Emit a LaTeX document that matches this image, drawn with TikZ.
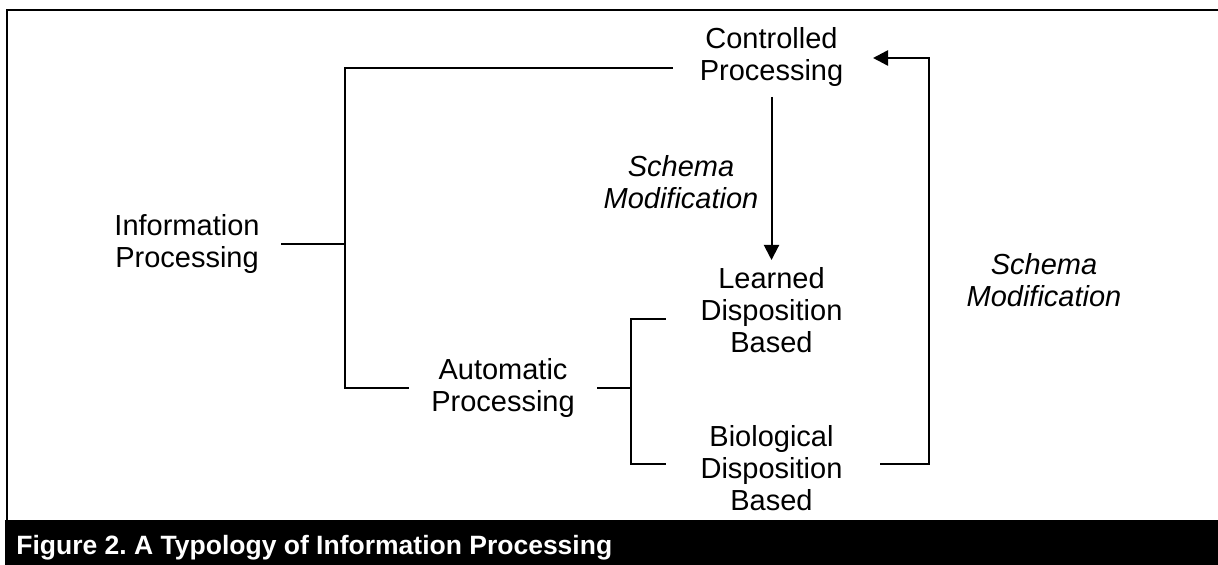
\documentclass[tikz,border=0pt]{standalone}
\usepackage{fontspec}
\setmainfont{Liberation Sans}
\usetikzlibrary{arrows.meta}
\frenchspacing

\begin{document}
\begin{tikzpicture}[x=0.5pt,y=-0.5pt,
  label/.style={align=center, inner sep=0pt, font=\fontsize{14.5}{16}\selectfont},
  italiclabel/.style={label, font=\fontsize{14.5}{16}\selectfont\itshape},
  wire/.style={line width=1pt, line cap=rect},
  loopwire/.style={line width=1.25pt},
  arrowtip/.style={-{Triangle[length=7.5pt,width=7.5pt]}}]

  \useasboundingbox (0,0) rectangle (1218,565);

  % frame: top and left rules, black caption bar
  \draw[line width=1.2pt] (1218,10) -- (7,10) -- (7,520);
  \fill (5,520) rectangle (1218,565);
  \node[anchor=base west, inner sep=0pt, text=white,
        font=\fontsize{13.25}{15}\selectfont\bfseries] (caption) at (16,554)
        {Figure 2. A Typology of Information Processing};

  % text blocks
  \node[label] (info) at (187,244) {Information\\Processing};
  \node[label] (ctrl) at (771.5,57.5) {Controlled\\Processing};
  \node[label] (auto) at (503,388) {Automatic\\Processing};
  \node[label] (learn) at (771.5,310.5) {Learned\\Disposition\\Based};
  \node[label] (bio) at (771.5,468.5) {Biological\\Disposition\\Based};
  \node[italiclabel] (sm1) at (681,182.5) {Schema\\Modification};
  \node[italiclabel] (sm2) at (1044,280) {Schema\\Modification};

  % connector end points
  \coordinate (infoR) at (282,244);
  \coordinate (split) at (345,244);
  \coordinate (ctrlL) at (672,68);
  \coordinate (autoL) at (408,388);
  \coordinate (autoR) at (598,388);
  \coordinate (fork) at (631,388);
  \coordinate (learnL) at (665,319);
  \coordinate (bioL) at (665,464);
  \coordinate (ctrlB) at (771.5,97);
  \coordinate (learnT) at (771.5,260);
  \coordinate (bioR) at (880,464);
  \coordinate (ctrlR) at (873,58);

  % first split: controlled vs automatic
  \draw[wire] (infoR) -- (split);
  \draw[wire] (ctrlL) -| (split) |- (autoL);

  % second split: learned vs biological
  \draw[wire] (autoR) -- (fork);
  \draw[wire] (learnL) -| (fork) |- (bioL);

  % schema modification arrows
  \draw[wire, line cap=butt, arrowtip] (ctrlB) -- (learnT);
  \draw[loopwire, arrowtip] (bioR) -- (929,464) -- (929,58) -- (ctrlR);
\end{tikzpicture}
\end{document}
